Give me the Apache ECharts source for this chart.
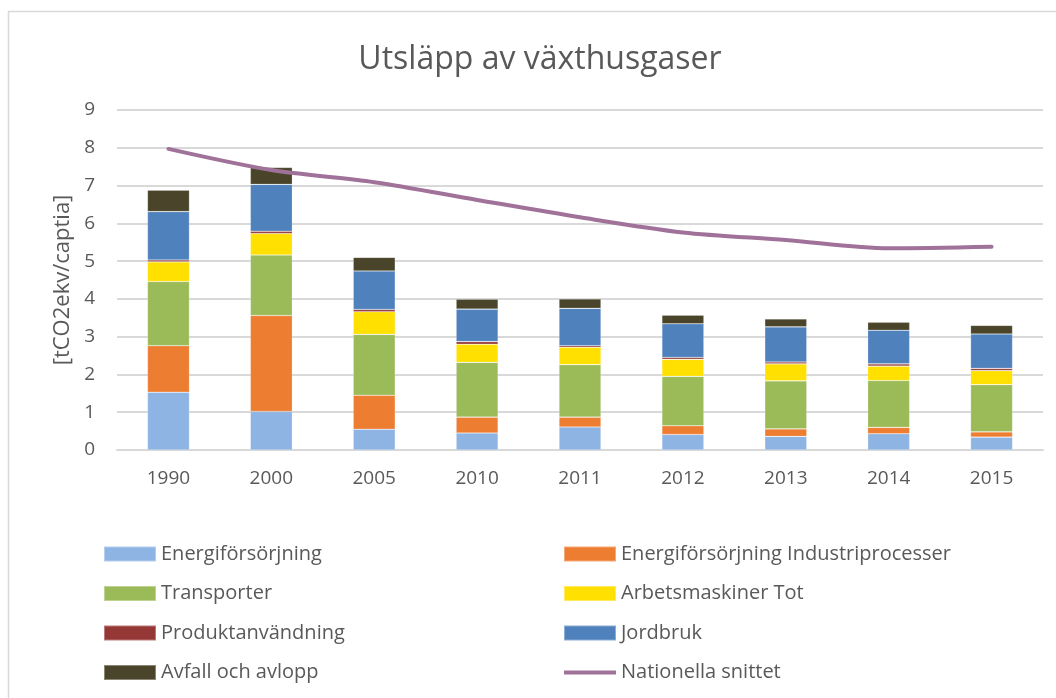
<!DOCTYPE html>
<html>
<head>
<meta charset="utf-8">
<script src="https://cdn.jsdelivr.net/npm/echarts@6/dist/echarts.min.js"></script>
<style>
html,body{margin:0;padding:0;background:#fff;}
#chart{width:1056px;height:698px;}
</style>
</head>
<body>
<div id="chart"></div>
<script>
const years = ['1990','2000','2005','2010','2011','2012','2013','2014','2015'];
const energiforsorjning = [1.53, 1.02, 0.55, 0.45, 0.61, 0.41, 0.36, 0.43, 0.34];
const industriprocesser = [1.23, 2.54, 0.90, 0.42, 0.26, 0.23, 0.20, 0.17, 0.14];
const transporter = [1.70, 1.60, 1.61, 1.45, 1.39, 1.31, 1.27, 1.24, 1.25];
const arbetsmaskiner = [0.52, 0.57, 0.60, 0.48, 0.46, 0.45, 0.45, 0.38, 0.37];
const produktanvandning = [0.05, 0.06, 0.06, 0.07, 0.04, 0.05, 0.05, 0.06, 0.06];
const jordbruk = [1.28, 1.24, 1.02, 0.86, 0.99, 0.89, 0.93, 0.89, 0.91];
const avfall = [0.57, 0.45, 0.36, 0.26, 0.25, 0.23, 0.21, 0.21, 0.23];
const nationella = [7.97, 7.41, 7.09, 6.62, 6.16, 5.76, 5.56, 5.34, 5.38];
const yTicks = [0, 1, 2, 3, 4, 5, 6, 7, 8, 9];

const FONT = '"Open Sans", "Noto Sans", sans-serif';
const TXT = '#595959';
const LINE_COLOR = '#A0729A';

function bar(name, data, color) {
  return {
    name, type: 'bar', stack: 'total', data, barWidth: 42,
    itemStyle: { color, borderColor: 'rgba(255,255,255,0.35)', borderWidth: 0.6 },
    emphasis: { disabled: true }
  };
}

const legendCommon = {
  orient: 'vertical', top: 544, itemGap: 19.5, padding: 0,
  itemWidth: 52, itemHeight: 15, icon: 'rect',
  textStyle: { color: TXT, fontSize: 20, lineHeight: 20, fontFamily: FONT }
};

const chart = echarts.init(document.getElementById('chart'), null, { renderer: 'canvas' });
chart.setOption({
  animation: false,
  backgroundColor: '#fff',
  textStyle: { fontFamily: FONT },
  title: {
    text: 'Utsläpp av växthusgaser',
    left: 540, top: 44, textAlign: 'center', padding: 0,
    textStyle: { fontFamily: FONT, fontSize: 32, fontWeight: 'normal', color: TXT }
  },
  graphic: [{
    type: 'rect', silent: true, z: -1,
    shape: { x: 8.5, y: 11.5, width: 1100, height: 800 },
    style: { fill: 'none', stroke: '#D9D9D9', lineWidth: 1.5 }
  }],
  grid: { left: 117, right: 13, top: 110, bottom: 248, containLabel: false },
  xAxis: {
    type: 'category', data: years,
    axisLine: { lineStyle: { color: '#D9D9D9', width: 2 } },
    axisTick: { show: false },
    axisLabel: { color: TXT, fontSize: 19, margin: 19, fontFamily: FONT }
  },
  yAxis: {
    type: 'value', min: yTicks[0], max: yTicks[yTicks.length - 1], interval: 1,
    name: '[tCO2ekv/captia]', nameLocation: 'middle', nameGap: 43,
    nameMoveOverlap: false,
    nameTextStyle: { color: TXT, fontSize: 22, fontFamily: FONT },
    axisLine: { show: false }, axisTick: { show: false },
    axisLabel: { color: TXT, fontSize: 19, margin: 22, fontFamily: FONT },
    splitLine: { lineStyle: { color: '#D9D9D9', width: 2 } }
  },
  legend: [Object.assign({}, legendCommon, {
    left: 103,
    data: ['Energiförsörjning', 'Transporter', 'Produktanvändning', 'Avfall och avlopp']
  }), Object.assign({}, legendCommon, {
    left: 563,
    data: ['Energiförsörjning Industriprocesser', 'Arbetsmaskiner Tot', 'Jordbruk',
      { name: 'Nationella snittet', icon: 'path://M0,0 L100,0 L100,8 L0,8 Z' }]
  })],
  series: [
    bar('Energiförsörjning', energiforsorjning, '#8EB4E3'),
    bar('Energiförsörjning Industriprocesser', industriprocesser, '#ED7D31'),
    bar('Transporter', transporter, '#9BBB59'),
    bar('Arbetsmaskiner Tot', arbetsmaskiner, '#FFE000'),
    bar('Produktanvändning', produktanvandning, '#953735'),
    bar('Jordbruk', jordbruk, '#4F81BD'),
    bar('Avfall och avlopp', avfall, '#4A452A'),
    {
      name: 'Nationella snittet', type: 'line', data: nationella,
      smooth: 0.3, symbol: 'none', z: 5,
      lineStyle: { color: LINE_COLOR, width: 4, cap: 'round' },
      itemStyle: { color: LINE_COLOR },
      emphasis: { disabled: true }
    }
  ]
});
</script>
</body>
</html>
